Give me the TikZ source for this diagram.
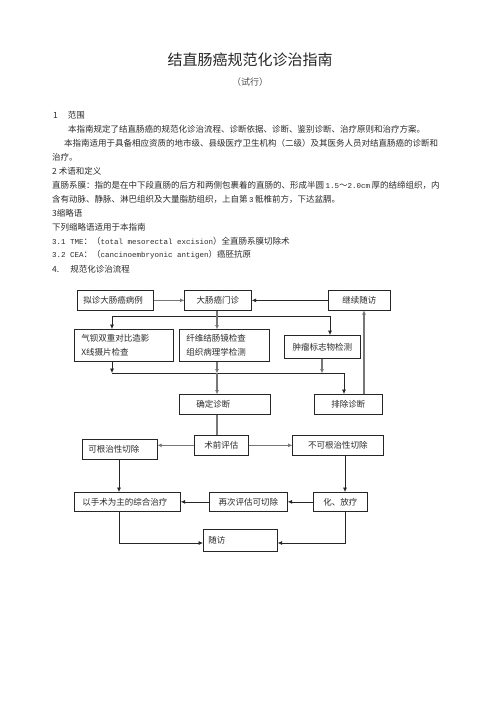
\documentclass[tikz,border=0pt]{standalone}
\usepackage{fontspec}
\newfontfamily\cjk{Noto Sans CJK SC}
\newfontfamily\mono{Liberation Mono}
\usetikzlibrary{arrows.meta}
\newcommand\lat[1]{{\mono\fontsize{7.5}{10}\selectfont #1}}
\definecolor{txt}{HTML}{2A2A2A}
\definecolor{gline}{HTML}{777777}
\tikzset{
  body/.style={anchor=west, inner sep=0pt, text=txt, font=\cjk\fontsize{8.5}{10}\selectfont},
  box/.style={draw=black!85, line width=0.7pt, anchor=north west, inner ysep=0pt, text=txt,
              font=\cjk\fontsize{8.5}{14}\selectfont},
  lbox/.style={box, align=left},
  cbox/.style={box, align=center},
  thinln/.style={draw=black!85, line width=0.7pt},
  thickln/.style={draw=gline, line width=1.5pt},
  arr/.style={thinln, -{Latex[length=4.5pt,width=4pt]}},
  garr/.style={thickln, -{Latex[length=4.5pt,width=4pt]}, shorten >=-0.5pt},
}
\begin{document}
\begin{tikzpicture}[x=1pt,y=-1pt]
\path[use as bounding box, fill=white] (0,0) rectangle (496,702);

% title
\node[inner sep=0pt, text=black!85, font=\cjk\fontsize{15}{18}\selectfont] (title) at (250,60) {结直肠癌规范化诊治指南};
\node[inner sep=0pt, text=black!70, font=\cjk\fontsize{9}{11}\selectfont] (sub) at (250,82) {（试行）};

% body text
\node[body] (l1) at (53,115) {1\hspace{10pt}范围};
\node[body] (l2) at (68,129) {本指南规定了结直肠癌的规范化诊治流程、诊断依据、诊断、鉴别诊断、治疗原则和治疗方案。};
\node[body] (l3) at (64,143) {本指南适用于具备相应资质的地市级、县级医疗卫生机构（二级）及其医务人员对结直肠癌的诊断和};
\node[body] (l4) at (52,157) {治疗。};
\node[body] (l5) at (52,171) {2 术语和定义};
\node[body] (l6) at (52,185) {直肠系膜：指的是在中下段直肠的后方和两侧包裹着的直肠的、形成半圆\,\lat{1.5}～\lat{2.0cm}\,厚的结缔组织，内};
\node[body] (l7) at (52,199) {含有动脉、静脉、淋巴组织及大量脂肪组织，上自第\,\lat{3}\,骶椎前方，下达盆膈。};
\node[body] (l8) at (52,213) {3缩略语};
\node[body] (l9) at (52,227) {下列缩略语适用于本指南};
\node[body] (l10) at (52,241) {\lat{3.1 TME}：（\lat{total mesorectal excision}）全直肠系膜切除术};
\node[body] (l11) at (52,255) {\lat{3.2 CEA}：（\lat{cancinoembryonic antigen}）癌胚抗原};
\node[body] (l12) at (52,269) {4.\hspace{11pt}规范化诊治流程};

% flowchart boxes
\node[lbox, minimum height=20pt, inner xsep=6pt, text width=64pt] (b1) at (77,290) {拟诊大肠癌病例};
\node[cbox, minimum height=20pt, inner xsep=3pt, text width=61pt] (b2) at (184,290) {大肠癌门诊};
\node[cbox, minimum height=20pt, inner xsep=3pt, text width=56pt] (b3) at (328,290) {继续随访};

\node[lbox, minimum height=32pt, inner xsep=7pt, text width=85pt] (c1) at (74,329) {气钡双重对比造影\\X线摄片检查};
\node[lbox, minimum height=32pt, inner xsep=7pt, text width=76pt] (c2) at (179,329) {纤维结肠镜检查\\组织病理学检测};
\node[cbox, minimum height=23pt, inner xsep=3pt, text width=70pt] (c3) at (284,335) {肿瘤标志物检测};

\node[lbox, minimum height=20pt, inner xsep=17pt, text width=57pt] (d1) at (179,394) {确定诊断};
\node[cbox, minimum height=20pt, inner xsep=3pt, text width=62pt] (d2) at (314,394) {排除诊断};

\node[cbox, minimum height=20pt, inner xsep=3pt, text width=48pt] (e1) at (194,435) {术前评估};
\node[lbox, minimum height=20pt, inner xsep=6pt, text width=63pt] (e0) at (82,439) {可根治性切除};
\node[cbox, minimum height=20pt, inner xsep=3pt, text width=85pt] (e2) at (292,435) {不可根治性切除};

\node[lbox, minimum height=19pt, inner xsep=8pt, text width=90pt] (f1) at (74,492) {以手术为主的综合治疗};
\node[cbox, minimum height=19pt, inner xsep=3pt, text width=72pt] (f2) at (209,492) {再次评估可切除};
\node[cbox, minimum height=19pt, inner xsep=3pt, text width=48pt] (f3) at (313,492) {化、放疗};

\node[lbox, minimum height=22pt, inner xsep=5pt, text width=64pt] (g) at (203,529) {随访};

% junction coordinates
\coordinate (h1) at (112,316);
\coordinate (h3) at (330,316);
\coordinate (k1) at (112,373);
\coordinate (k3) at (322,373);
\coordinate (k4) at (344,373);
\coordinate (vx) at (217,0);
\coordinate (rx) at (364,0);
\coordinate (lx) at (119,0);
\coordinate (qx) at (345,0);
\coordinate (ly) at (0,543);

% connectors, top
\draw[garr] (b1.east) -- (b2.west);
\draw[arr] (b3.west) -- (b2.east);
\draw[thickln] (vx |- b2.south) -- (vx |- h1);
\draw[thinln] (h1) -- (h3);
\draw[arr] (h1) -- (h1 |- c1.north);
\draw[garr] (vx |- h1) -- (vx |- c2.north);
\draw[arr] (h3) -- (h3 |- c3.north);

% connectors, middle
\draw[arr] (k1 |- c1.south) -- (k1);
\draw[garr] (vx |- c2.south) -- (vx |- k1);
\draw[garr] (k3 |- c3.south) -- (k3);
\draw[thinln] (k1) -- (k4);
\draw[garr] (vx |- k1) -- (vx |- d1.north);
\draw[arr] (k4) -- (k4 |- d2.north);
\draw[garr] (rx |- d2.north) -- (rx |- b3.south);

% connectors, lower
\draw[thickln] (vx |- d1.south) -- (vx |- e1.north);
\draw[garr] (e1.west) -- (e0.east |- e1.west);
\draw[garr] (e1.east) -- (e2.west);
\draw[arr] (lx |- e0.south) -- (lx |- f1.north);
\draw[arr] (qx |- e2.south) -- (qx |- f3.north);
\draw[arr] (f3.west) -- (f2.east);
\draw[arr] (f2.west) -- (f1.east);
\draw[arr] (lx |- f1.south) -- (lx |- ly) -- (g.west |- ly);
\draw[arr] (qx |- f3.south) -- (qx |- ly) -- (g.east |- ly);
\end{tikzpicture}
\end{document}
